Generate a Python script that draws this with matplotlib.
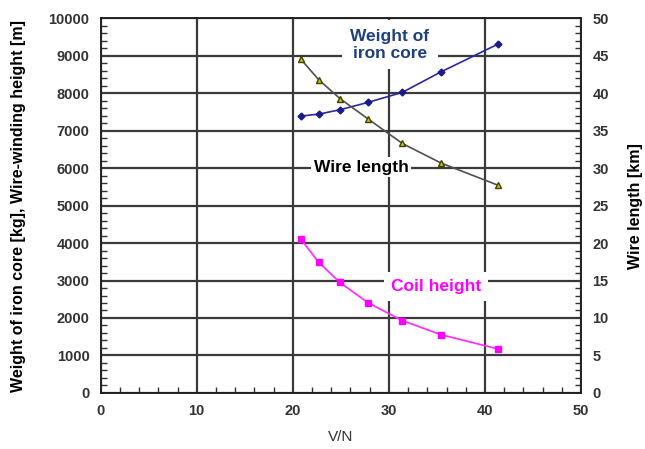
import matplotlib
matplotlib.use("Agg")
import matplotlib.pyplot as plt
from matplotlib.ticker import MultipleLocator

plt.rcParams['font.family'] = ['Liberation Sans', 'DejaVu Sans']

# V/N на оси X
vn = [20.8, 22.7, 24.9, 27.8, 31.4, 35.4, 41.4]
iron_core_kg = [7390, 7445, 7560, 7756, 8025, 8570, 9320]
coil_height = [4120, 3485, 2950, 2410, 1930, 1555, 1170]
wire_length_km = [44.6, 41.8, 39.3, 36.6, 33.3, 30.7, 27.7]

fig = plt.figure(figsize=(6.45, 4.49), dpi=100)
ax = fig.add_axes([0.156, 0.125, 0.745, 0.834])
ax2 = ax.twinx()

ax.set_xlim(0, 50)
ax.set_ylim(0, 10000)
ax2.set_ylim(0, 50)

ax.xaxis.set_major_locator(MultipleLocator(10))
ax.xaxis.set_minor_locator(MultipleLocator(2))
ax.yaxis.set_major_locator(MultipleLocator(1000))
ax.yaxis.set_minor_locator(MultipleLocator(200))
ax2.yaxis.set_major_locator(MultipleLocator(5))
ax2.yaxis.set_minor_locator(MultipleLocator(1))

ax.grid(True, which="major", color="#3a3a3a", lw=1.6)
ax.set_axisbelow(True)
ax.tick_params(which="both", direction="in", length=0, labelsize=10.5,
               labelcolor="#333333", pad=8)
ax.tick_params(which="minor", length=4, width=1, color="#333333")
ax2.tick_params(which="major", direction="in", length=0, labelsize=10.5,
                labelcolor="#333333", pad=8)
ax2.tick_params(which="minor", direction="in", length=4, width=1, color="#333333")
for lab in ax.get_xticklabels() + ax.get_yticklabels() + ax2.get_yticklabels():
    lab.set_fontweight("bold")
for a in (ax, ax2):
    for s in a.spines.values():
        s.set_color("#222222")
        s.set_linewidth(1.2)

ax.plot(vn, iron_core_kg, color="#2a2aa0", lw=1.2, marker="D", ms=3.5,
        mfc="#1a1a8c", mec="#1a1a8c", zorder=4)
ax.plot(vn, coil_height, color="#ff33ff", lw=1.3, marker="s", ms=5,
        mfc="#ff00ff", mec="#ff00ff", zorder=4)
ax2.plot(vn, wire_length_km, color="#505050", lw=1.2, marker="^", ms=5,
         mfc="#c8c800", mec="#404000", zorder=4)

ax.text(30.1, 9300, "Weight of\niron core", color="#1f3f7f", fontsize=12.5,
        fontweight="bold", ha="center", va="center", linespacing=1.15,
        bbox=dict(facecolor="white", edgecolor="none", pad=6))
ax.text(27.1, 6030, "Wire length", color="black", fontsize=12.5,
        fontweight="bold", ha="center", va="center",
        bbox=dict(facecolor="white", edgecolor="none", pad=2))
ax.text(34.9, 2840, "Coil height", color="#ff00ff", fontsize=12.5,
        fontweight="bold", ha="center", va="center",
        bbox=dict(facecolor="white", edgecolor="none", pad=5))

ax.set_xlabel("V/N", fontsize=11, color="#333333", labelpad=9)
ax.set_ylabel("Weight of iron core [kg], Wire-winding height [m]",
              fontsize=11.5, fontweight="bold", labelpad=16)
ax2.set_ylabel("Wire length [km]", fontsize=11.5, fontweight="bold", labelpad=14)

fig.savefig("out.png", dpi=100)
